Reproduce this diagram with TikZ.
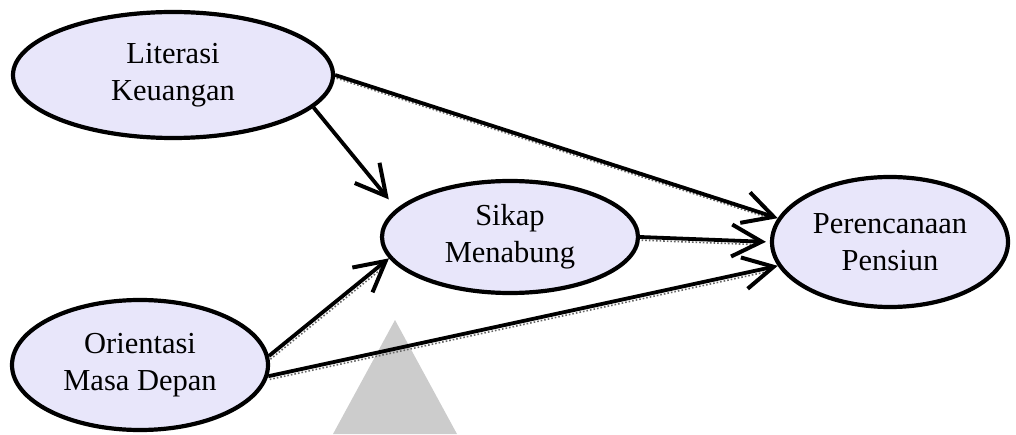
\documentclass[tikz,border=0pt]{standalone}
\usepackage{fontspec}
\setmainfont{Liberation Serif}
\usetikzlibrary{arrows.meta,shapes.geometric}
\definecolor{lav}{HTML}{E8E6FA}
\definecolor{wm}{HTML}{CCCCCC}
\begin{document}
\begin{tikzpicture}[x=1pt,y=1pt,
  var/.style={ellipse, draw=black, line width=4.2pt, fill=lav, inner sep=0pt,
    align=center, font=\fontsize{30.5}{37}\selectfont},
  link/.style={line width=3.8pt,
    -{Straight Barb[length=30pt,width=32pt,line width=4pt]}},
  shade/.style={draw=black!60, line width=1.6pt, dotted,
    transform canvas={shift={(1.5pt,-3.2pt)}}}]
\useasboundingbox (0,0) rectangle (1016,434);
\fill[wm] (395,114) -- (333,0) -- (457,0) -- cycle;
\node[var, minimum width=320pt, minimum height=126pt] (lk) at (173,359) {Literasi\\Keuangan};
\node[var, minimum width=256pt, minimum height=112pt] (sm) at (510,197) {Sikap\\Menabung};
\node[var, minimum width=236pt, minimum height=130pt] (pp) at (890,192) {Perencanaan\\Pensiun};
\node[var, minimum width=256pt, minimum height=130pt] (om) at (140,69) {Orientasi\\Masa Depan};
\foreach \a/\b/\s in {lk.-13/sm.166/12pt, lk.0/pp.168/0pt, sm.east/pp.west/4pt, om.4/sm.190/0pt, om.-5/pp.192/0pt}{
  \draw[shade, shorten >=\s+8pt] (\a) -- (\b);
  \draw[link, shorten >=\s] (\a) -- (\b);
}
\end{tikzpicture}
\end{document}
